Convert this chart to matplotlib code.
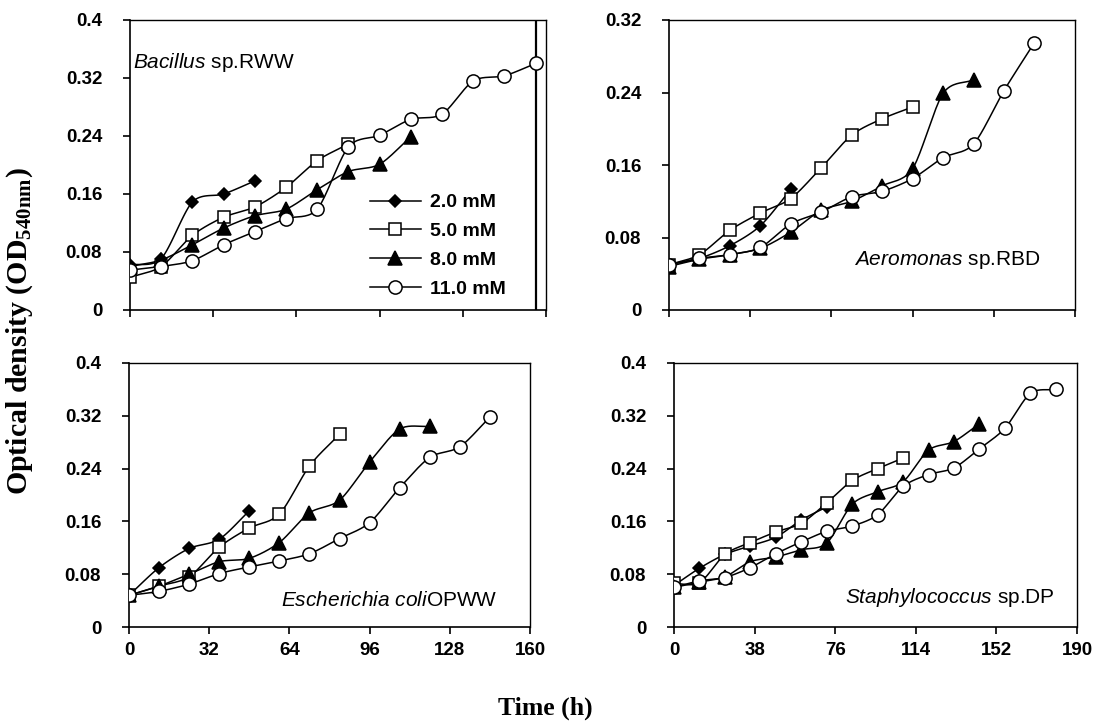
import numpy as np
import matplotlib
matplotlib.use("Agg")
import matplotlib.pyplot as plt

plt.rcParams['font.family'] = ['Liberation Sans', 'DejaVu Sans']
plt.rcParams['mathtext.fontset'] = 'custom'
plt.rcParams['mathtext.rm'] = 'Liberation Sans'
plt.rcParams['mathtext.it'] = 'Liberation Sans:italic'
plt.rcParams['mathtext.bf'] = 'Liberation Serif:bold'

# ---------------- data ----------------
series_labels = ["2.0 mM", "5.0 mM", "8.0 mM", "11.0 mM"]

# Bacillus sp.RWW
bac_t_20 = [0, 12, 24, 36, 48]
bac_20 = [0.062, 0.071, 0.149, 0.160, 0.178]
bac_t_50 = [0, 12, 24, 36, 48, 60, 72, 84]
bac_50 = [0.045, 0.060, 0.103, 0.128, 0.142, 0.169, 0.206, 0.229]
bac_t_80 = [0, 12, 24, 36, 48, 60, 72, 84, 96, 108]
bac_80 = [0.060, 0.069, 0.090, 0.113, 0.130, 0.139, 0.166, 0.191, 0.201, 0.239]
bac_t_110 = [0, 12, 24, 36, 48, 60, 72, 84, 96, 108, 120, 132, 144, 156]
bac_110 = [0.055, 0.060, 0.068, 0.090, 0.108, 0.126, 0.139, 0.225, 0.241, 0.263, 0.270, 0.316, 0.323, 0.340]

# Aeromonas sp.RBD
aer_t_20 = [0, 12, 24, 36, 48]
aer_20 = [0.050, 0.057, 0.071, 0.093, 0.133]
aer_t_50 = [0, 12, 24, 36, 48, 60, 72, 84, 96]
aer_50 = [0.050, 0.061, 0.088, 0.107, 0.123, 0.157, 0.193, 0.211, 0.224]
aer_t_80 = [0, 12, 24, 36, 48, 60, 72, 84, 96, 108, 120]
aer_80 = [0.048, 0.056, 0.061, 0.068, 0.086, 0.110, 0.120, 0.137, 0.156, 0.239, 0.254]
aer_t_110 = [0, 12, 24, 36, 48, 60, 72, 84, 96, 108, 120, 132, 144]
aer_110 = [0.050, 0.057, 0.061, 0.069, 0.095, 0.108, 0.125, 0.131, 0.145, 0.168, 0.183, 0.242, 0.295]

# Escherichia coli OPWW
eco_t_20 = [0, 12, 24, 36, 48]
eco_20 = [0.048, 0.090, 0.119, 0.133, 0.176]
eco_t_50 = [0, 12, 24, 36, 48, 60, 72, 84]
eco_50 = [0.048, 0.062, 0.076, 0.121, 0.150, 0.171, 0.244, 0.292]
eco_t_80 = [0, 12, 24, 36, 48, 60, 72, 84, 96, 108, 120]
eco_80 = [0.048, 0.062, 0.080, 0.099, 0.104, 0.128, 0.173, 0.192, 0.250, 0.300, 0.304]
eco_t_110 = [0, 12, 24, 36, 48, 60, 72, 84, 96, 108, 120, 132, 144]
eco_110 = [0.048, 0.054, 0.065, 0.081, 0.091, 0.100, 0.111, 0.134, 0.158, 0.211, 0.257, 0.273, 0.318]

# Staphylococcus sp.DP
sta_t_20 = [0, 12, 24, 36, 48, 60, 72]
sta_20 = [0.063, 0.089, 0.110, 0.123, 0.136, 0.162, 0.182]
sta_t_50 = [0, 12, 24, 36, 48, 60, 72, 84, 96, 108]
sta_50 = [0.066, 0.067, 0.110, 0.128, 0.144, 0.157, 0.188, 0.222, 0.240, 0.256]
sta_t_80 = [0, 12, 24, 36, 48, 60, 72, 84, 96, 108, 120, 132, 144]
sta_80 = [0.060, 0.068, 0.076, 0.099, 0.106, 0.117, 0.127, 0.186, 0.205, 0.220, 0.268, 0.281, 0.308]
sta_t_110 = [0, 12, 24, 36, 48, 60, 72, 84, 96, 108, 120, 132, 144, 156, 168, 180]
sta_110 = [0.060, 0.070, 0.075, 0.090, 0.111, 0.129, 0.145, 0.153, 0.170, 0.213, 0.231, 0.241, 0.270, 0.301, 0.354, 0.360]

panel_titles = [r"$\mathit{Bacillus}$ sp.RWW", r"$\mathit{Aeromonas}$ sp.RBD",
                r"$\mathit{Escherichia}$ $\mathit{coli}$OPWW", r"$\mathit{Staphylococcus}$ sp.DP"]
x_ticks = [[0, 32, 64, 96, 128, 160], [0, 32, 64, 96, 128, 160],
           [0, 32, 64, 96, 128, 160], [0, 38, 76, 114, 152, 190]]
y_ticks = [[0, 0.08, 0.16, 0.24, 0.32, 0.4], [0, 0.08, 0.16, 0.24, 0.32],
           [0, 0.08, 0.16, 0.24, 0.32, 0.4], [0, 0.08, 0.16, 0.24, 0.32, 0.4]]
y_ticklabels = [["0", "0.08", "0.16", "0.24", "0.32", "0.4"], ["0", "0.08", "0.16", "0.24", "0.32"],
                ["0", "0.08", "0.16", "0.24", "0.32", "0.4"], ["0", "0.08", "0.16", "0.24", "0.32", "0.4"]]

panels = [
    [(bac_t_20, bac_20), (bac_t_50, bac_50), (bac_t_80, bac_80), (bac_t_110, bac_110)],
    [(aer_t_20, aer_20), (aer_t_50, aer_50), (aer_t_80, aer_80), (aer_t_110, aer_110)],
    [(eco_t_20, eco_20), (eco_t_50, eco_50), (eco_t_80, eco_80), (eco_t_110, eco_110)],
    [(sta_t_20, sta_20), (sta_t_50, sta_50), (sta_t_80, sta_80), (sta_t_110, sta_110)],
]

# ---------------- styles ----------------
styles = [
    dict(marker='D', ms=6.5, mfc='black', mec='black'),
    dict(marker='s', ms=8.5, mfc='white', mec='black'),
    dict(marker='^', ms=9.5, mfc='black', mec='black'),
    dict(marker='o', ms=9.5, mfc='white', mec='black'),
]
tick_font = dict(family='Liberation Sans', weight='bold', size=13.5)


def smooth(x, y, n=20):
    """Catmull-Rom curve through the points (like Excel smoothed lines)."""
    x = np.asarray(x, float)
    y = np.asarray(y, float)
    if len(x) < 3:
        return x, y
    px = np.concatenate([[2 * x[0] - x[1]], x, [2 * x[-1] - x[-2]]])
    py = np.concatenate([[2 * y[0] - y[1]], y, [2 * y[-1] - y[-2]]])
    xs, ys = [], []
    t = np.linspace(0, 1, n, endpoint=False)
    for i in range(1, len(px) - 2):
        for arr, out in ((px, xs), (py, ys)):
            p0, p1, p2, p3 = arr[i - 1], arr[i], arr[i + 1], arr[i + 2]
            m1 = (p2 - p0) / 2 * 0.85
            m2 = (p3 - p1) / 2 * 0.85
            h00 = 2 * t**3 - 3 * t**2 + 1
            h10 = t**3 - 2 * t**2 + t
            h01 = -2 * t**3 + 3 * t**2
            h11 = t**3 - t**2
            out.extend(h00 * p1 + h10 * m1 + h01 * p2 + h11 * m2)
    xs.append(x[-1])
    ys.append(y[-1])
    return np.array(xs), np.array(ys)


W, H = 1095, 721
fig = plt.figure(figsize=(W / 100, H / 100), dpi=100)
boxes = [(130, 546, 20, 310), (669, 1075, 20, 310), (129, 530, 363, 627), (674, 1077, 363, 627)]
axes = []
for (l, r, t, b) in boxes:
    axes.append(fig.add_axes([l / W, 1 - b / H, (r - l) / W, (b - t) / H]))

title_pos = [(0.007, 0.855, 'left'), (0.914, 0.172, 'right'), (0.92, 0.102, 'right'), (0.945, 0.11, 'right')]

for k, ax in enumerate(axes):
    for (tx, vy), st in zip(panels[k], styles):
        sx, sy = smooth(tx, vy)
        ax.plot(sx, sy, color='black', lw=1.1, zorder=2)
        ax.plot(tx, vy, ls='none', mew=1.1, zorder=3, **st)
    ax.set_xlim(x_ticks[k][0], x_ticks[k][-1])
    ax.set_ylim(y_ticks[k][0], y_ticks[k][-1])
    ax.set_xticks(x_ticks[k])
    ax.set_yticks(y_ticks[k])
    ax.set_yticklabels(y_ticklabels[k], fontdict=tick_font)
    if k >= 2:
        ax.set_xticklabels([str(v) for v in x_ticks[k]], fontdict=tick_font)
    else:
        ax.set_xticklabels([])
    ax.tick_params(direction='out', length=5, width=1.2)
    ax.tick_params(axis='y', pad=15)
    ax.tick_params(axis='x', pad=6)
    for sp in ax.spines.values():
        sp.set_linewidth(1.2)
    ax.spines['top'].set_linewidth(1.0)
    ax.spines['right'].set_linewidth(1.0)
    tx_, ty_, ha = title_pos[k]
    ax.text(tx_, ty_, panel_titles[k], transform=ax.transAxes, ha=ha, va='center',
            fontsize=15)

# vertical line at last point of Bacillus 11.0 mM series
axes[0].axvline(bac_t_110[-1], color='black', lw=1.6, zorder=1)

# legend in first panel
handles = []
for st in styles:
    h, = axes[0].plot([], [], color='black', lw=1.1, mew=1.1, **st)
    handles.append(h)
leg = axes[0].legend(handles, series_labels, loc='center left', bbox_to_anchor=(0.577, 0.221),
                     frameon=False, handlelength=2.6, labelspacing=0.58, handletextpad=0.5,
                     borderpad=0, borderaxespad=0,
                     prop=dict(family='Liberation Sans', weight='bold', size=14))

fig.text(20 / W, 1 - 331 / H, r"Optical density (OD$_{\mathbf{540nm}}$)", rotation=90,
         ha='center', va='center', family='Liberation Serif', weight='bold', fontsize=21.5)
fig.text(545 / W, 1 - 708 / H, "Time (h)", ha='center', va='center',
         family='Liberation Serif', weight='bold', fontsize=18.5)

fig.savefig("out.png", dpi=100)
